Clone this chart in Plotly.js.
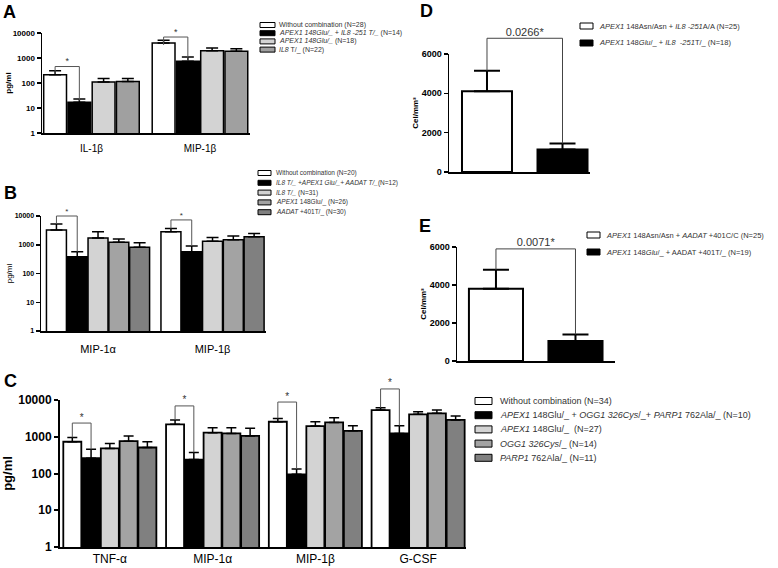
<!DOCTYPE html>
<html><head><meta charset="utf-8">
<script src="https://cdn.plot.ly/plotly-3.0.1.min.js"></script>
<style>html,body{margin:0;padding:0;background:#fff}#chart{width:778px;height:568px}</style>
</head><body><div id="chart"></div>
<script>
const W = 778, H = 568;
const FONT = 'Liberation Sans, Arial, sans-serif';

// ---------- shared tick labels ----------
const logTicks = [1, 10, 100, 1000, 10000];
const logTickText = ['1', '10', '100', '1000', '10000'];
const cellTicks = [0, 2000, 4000, 6000];
const cellTickText = ['0', '2000', '4000', '6000'];

// ---------- Panel A ----------
const catsA = ['IL-1β', 'MIP-1β'];
const labelsA = ['Without combination (N=28)', '<i>APEX1 148Glu/_ + IL8 -251 T/_</i> (N=14)', '<i>APEX1 148Glu/_</i> (N=18)', '<i>IL8</i> T/_ (N=22)'];
const meanA_without = [215, 4000];
const semA_without = [95, 1100];
const meanA_combo = [17, 740];
const semA_combo = [6, 360];
const meanA_apex = [110, 1950];
const semA_apex = [40, 550];
const meanA_il8 = [115, 1850];
const semA_il8 = [35, 500];
const bracketA = [630, 11000];
const markA = ['*', '*'];

// ---------- Panel B ----------
const catsB = ['MIP-1α', 'MIP-1β'];
const labelsB = ['Without combination (N=20)', '<i>IL8 T/_ +APEX1 Glu/_+ AADAT T/_</i>(N=12)', '<i>IL8 T/_</i> (N=31)', '<i>APEX1</i> 148Glu/_ (N=26)', '<i>AADAT</i> +401T/_ (N=30)'];
const meanB_without = [3250, 2850];
const semB_without = [2050, 800];
const meanB_combo = [380, 570];
const semB_combo = [190, 340];
const meanB_il8 = [1700, 1320];
const semB_il8 = [1150, 480];
const meanB_apex = [1220, 1480];
const semB_apex = [380, 520];
const meanB_aadat = [820, 1900];
const semB_aadat = [360, 550];
const bracketB = [10000, 7300];
const markB = ['*', '*'];

// ---------- Panel C ----------
const catsC = ['TNF-α', 'MIP-1α', 'MIP-1β', 'G-CSF'];
const labelsC = ['Without combination (N=34)', '<i>APEX1</i> 148Glu/_ + <i>OGG1 326Cys</i>/_+ <i>PARP1</i> 762Ala/_ (N=10)', '<i>APEX1</i> 148Glu/_  (N=27)', '<i>OGG1 326Cys</i>/_ (N=14)', '<i>PARP1</i> 762Ala/_ (N=11)'];
const meanC_without = [730, 2180, 2560, 5330];
const semC_without = [230, 690, 600, 840];
const meanC_combo = [260, 240, 95, 1230];
const semC_combo = [195, 135, 37, 770];
const meanC_apex = [480, 1290, 1950, 4080];
const semC_apex = [180, 480, 610, 720];
const meanC_ogg1 = [760, 1230, 2460, 4340];
const semC_ogg1 = [290, 540, 830, 990];
const meanC_parp1 = [510, 1050, 1450, 2870];
const semC_parp1 = [220, 650, 550, 790];
const bracketC = [2360, 6900, 8800, 20000];
const markC = ['*', '*', '*', '*'];

// ---------- Panel D ----------
const labelsD = ['<i>APEX1</i> 148Asn/Asn + <i>IL8 -251</i>A/A (N=25)', '<i>APEX1</i> 148<i>Glu</i>/_ + <i>IL8  -251</i>T/_ (N=18)'];
const meanD = [4100, 1150];
const semD = [1050, 300];
const bracketD = [6800];
const markD = ['0.0266*'];

// ---------- Panel E ----------
const labelsE = ['<i>APEX1</i> 148Asn/Asn + <i>AADAT</i> +401C/C (N=25)', '<i>APEX1</i> 148<i>Glu</i>/_ + AADAT +401T/_ (N=19)'];
const meanE = [3800, 1050];
const semE = [1000, 350];
const bracketE = [5900];
const markE = ['0.0071*'];

// ---------- panel configuration (styles / positions) ----------
const fills4 = ['#ffffff', '#000000', '#d3d3d3', '#a0a0a0'];
const fills5 = ['#ffffff', '#000000', '#d3d3d3', '#a3a3a3', '#808080'];
const fills2 = ['#ffffff', '#000000'];

const panels = [
  {letter: 'A', letterPos: [9, 12], cats: catsA, labels: labelsA,
   means: [meanA_without, meanA_combo, meanA_apex, meanA_il8],
   sems: [semA_without, semA_combo, semA_apex, semA_il8],
   fills: fills4, brackets: bracketA, marks: markA,
   box: [42, 250, 33, 133], xr: [-0.456, 1.461], log: true, groupW: 0.894, gap: 0.06,
   tickSize: 8, catSize: 10, catStandoff: 5, ytitle: '<b>pg/ml</b>', ytSize: 8, ytStandoff: 0,
   capW: 6, errW: 1.5, barLine: 1.5, axW: 1.5, markSize: 9, lineColor: '#555',
   legend: {x: 260, y: 25, dy: 8.2, bw: 15, bh: 5, tx: 278, size: 7}},
  {letter: 'B', letterPos: [10, 193], cats: catsB, labels: labelsB,
   means: [meanB_without, meanB_combo, meanB_il8, meanB_apex, meanB_aadat],
   sems: [semB_without, semB_combo, semB_il8, semB_apex, semB_aadat],
   fills: fills5, brackets: bracketB, marks: markB,
   box: [41, 266, 216, 331], xr: [-0.498, 1.467], log: true, groupW: 0.908, gap: 0.04,
   tickSize: 7, catSize: 11, catStandoff: 7, ytitle: 'pg/ml', ytSize: 8, ytStandoff: 1,
   capW: 6, errW: 1.5, barLine: 1.5, axW: 1.5, markSize: 8, lineColor: '#555',
   legend: {x: 258, y: 173, dy: 9.8, bw: 13, bh: 5, tx: 275, size: 6.5}},
  {letter: 'C', letterPos: [10, 381], cats: catsC, labels: labelsC,
   means: [meanC_without, meanC_combo, meanC_apex, meanC_ogg1, meanC_parp1],
   sems: [semC_without, semC_combo, semC_apex, semC_ogg1, semC_parp1],
   fills: fills5, brackets: bracketC, marks: markC,
   box: [60, 466, 400, 547], xr: [-0.485, 3.466], log: true, groupW: 0.913, gap: 0.04,
   tickSize: 12, catSize: 12, catStandoff: 0, ytitle: '<b>pg/ml</b>', ytSize: 13, ytStandoff: 4,
   capW: 5, errW: 1.5, barLine: 1.8, axW: 2, markSize: 10, lineColor: '#555',
   legend: {x: 475, y: 401, dy: 14.2, bw: 17, bh: 7, tx: 499, size: 9}},
  {letter: 'D', letterPos: [426, 11], separate: true, labels: labelsD,
   means: meanD.map(v => [v]), sems: semD.map(v => [v]),
   fills: fills2, brackets: bracketD, marks: markD,
   box: [449, 590, 54, 172], xr: [-0.503, 1.364], log: false, barW: 0.662, ymax: 6000,
   tickSize: 9, ytitle: '<b>Cel/mm³</b>', ytSize: 8, ytStandoff: 2,
   capW: 13, errW: 2, barLine: 2, axW: 1.5, markSize: 11, lineColor: '#444',
   legend: {x: 580, y: 26, dy: 17, bw: 13, bh: 6, tx: 598, size: 7.5}},
  {letter: 'E', letterPos: [425, 226], separate: true, labels: labelsE,
   means: meanE.map(v => [v]), sems: semE.map(v => [v]),
   fills: fills2, brackets: bracketE, marks: markE,
   box: [457, 615, 247, 361], xr: [-0.49, 1.497], log: false, barW: 0.68, ymax: 6000,
   tickSize: 9, ytitle: '<b>Cel/mm³</b>', ytSize: 8, ytStandoff: 2,
   capW: 13, errW: 2, barLine: 2, axW: 1.5, markSize: 11, lineColor: '#444',
   legend: {x: 587, y: 235, dy: 17, bw: 13, bh: 6, tx: 605, size: 7.5}}
];

const data = [];
const shapes = [];
const annotations = [];
const layout = {
  width: W, height: H, margin: {l: 0, r: 0, t: 0, b: 0},
  paper_bgcolor: '#ffffff', plot_bgcolor: 'rgba(0,0,0,0)',
  showlegend: false, barmode: 'overlay', font: {family: FONT, color: '#000'},
  shapes: shapes, annotations: annotations
};

const EXTRA = 40; // extra headroom (px) for the significance bracket layer

panels.forEach((p, k) => {
  const s = k === 0 ? '' : String(k + 1);
  const xa = 'x' + s, ya = 'y' + s;
  const ybId = k + 6, yb = 'y' + ybId;
  const [x0, x1, y0, y1] = p.box;
  const hPx = y1 - y0;
  const yRange = p.log ? [0, 4] : [0, p.ymax];

  layout['xaxis' + s] = {
    domain: [x0 / W, x1 / W], range: p.xr, anchor: ya,
    showline: true, linecolor: '#000', linewidth: p.axW, ticks: '',
    showgrid: false, zeroline: false,
    tickvals: p.cats ? p.cats.map((_, j) => j) : [],
    ticktext: p.cats || [], showticklabels: !!p.cats,
    tickfont: {family: FONT, size: p.catSize || 10, color: '#000'},
    ticklabelstandoff: p.catStandoff || 0
  };
  layout['yaxis' + s] = {
    domain: [1 - y1 / H, 1 - y0 / H], type: p.log ? 'log' : 'linear', range: yRange,
    anchor: xa, showline: true, linecolor: '#000', linewidth: p.axW,
    ticks: 'outside', ticklen: 4, tickwidth: p.axW, tickcolor: '#000',
    tickvals: p.log ? logTicks : cellTicks, ticktext: p.log ? logTickText : cellTickText,
    tickfont: {family: FONT, size: p.tickSize, color: '#000', weight: 'bold'},
    showgrid: false, zeroline: false,
    title: {text: p.ytitle, font: {family: FONT, size: p.ytSize, color: '#000'}, standoff: p.ytStandoff}
  };
  // invisible taller axis sharing the same scale for the significance brackets
  const ext = (hPx + EXTRA) / hPx;
  layout['yaxis' + ybId] = {
    domain: [1 - y1 / H, 1 - (y0 - EXTRA) / H], type: p.log ? 'log' : 'linear',
    range: [yRange[0], yRange[0] + (yRange[1] - yRange[0]) * ext],
    anchor: xa, visible: false, showgrid: false, zeroline: false
  };

  const n = p.means.length;
  const slot = p.separate ? 0 : p.groupW / n;
  const center = i => p.separate ? i : -p.groupW / 2 + (i + 0.5) * slot;

  p.means.forEach((m, i) => {
    const xs = p.separate ? [i] : p.cats.map((_, j) => j);
    data.push({
      type: 'bar', xaxis: xa, yaxis: ya, x: xs, y: m,
      width: p.separate ? p.barW : slot * (1 - p.gap),
      offset: p.separate ? -p.barW / 2 : -p.groupW / 2 + i * slot + slot * p.gap / 2,
      marker: {color: p.fills[i], line: {color: '#000', width: p.barLine}},
      error_y: {type: 'data', symmetric: false, array: p.sems[i], arrayminus: p.sems[i].map(() => 0),
                color: '#000', thickness: p.errW, width: p.capW},
      hoverinfo: 'skip', showlegend: false
    });
  });

  // significance brackets between the first two series
  p.brackets.forEach((lvl, j) => {
    const base = p.separate ? 0 : j;
    const xw = base + center(0), xb = base + center(1);
    const topW = p.means[0][j] + p.sems[0][j];
    const topB = p.means[1][j] + p.sems[1][j];
    data.push({
      type: 'scatter', mode: 'lines', xaxis: xa, yaxis: yb,
      x: [xw, xw, xb, xb], y: [topW, lvl, lvl, topB],
      line: {color: p.lineColor, width: 1}, hoverinfo: 'skip', showlegend: false
    });
    data.push({
      type: 'scatter', mode: 'text', xaxis: xa, yaxis: yb,
      x: [(xw + xb) / 2], y: [lvl], text: [p.marks[j]], textposition: 'top center',
      textfont: {family: FONT, size: p.markSize, color: '#333'},
      cliponaxis: false, hoverinfo: 'skip', showlegend: false
    });
  });

  // legend (swatches + labels)
  const L = p.legend;
  p.labels.forEach((lab, i) => {
    const cy = L.y + i * L.dy;
    shapes.push({type: 'rect', xref: 'paper', yref: 'paper',
      x0: L.x / W, x1: (L.x + L.bw) / W, y0: 1 - (cy + L.bh / 2) / H, y1: 1 - (cy - L.bh / 2) / H,
      fillcolor: p.fills[i], line: {color: '#000', width: 1}});
    annotations.push({xref: 'paper', yref: 'paper', x: L.tx / W, y: 1 - cy / H,
      xanchor: 'left', yanchor: 'middle', showarrow: false, borderpad: 0, text: lab,
      font: {family: FONT, size: L.size, color: '#333'}});
  });

  // panel letter
  annotations.push({xref: 'paper', yref: 'paper', x: p.letterPos[0] / W, y: 1 - p.letterPos[1] / H,
    xanchor: 'center', yanchor: 'middle', showarrow: false, text: '<b>' + p.letter + '</b>',
    font: {family: FONT, size: 18, color: '#000'}});
});

Plotly.newPlot('chart', data, layout, {staticPlot: true, displayModeBar: false});
</script>
</body></html>
